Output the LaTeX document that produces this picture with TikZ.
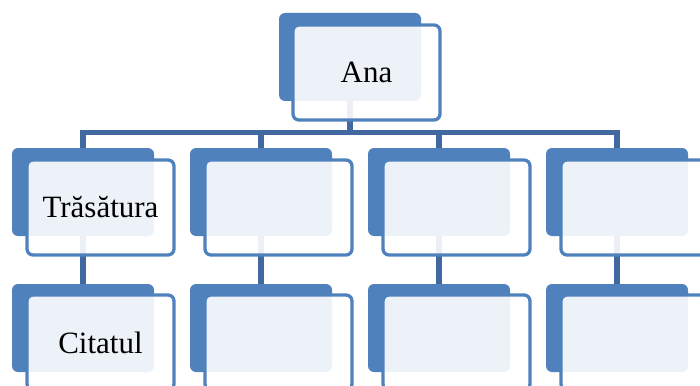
\documentclass[tikz,border=0pt]{standalone}
\usepackage{fontspec}
\setmainfont{Liberation Serif}
\definecolor{accent}{HTML}{4F81BD}
\definecolor{linkc}{HTML}{4169A0}
\tikzset{
  backbox/.style={anchor=north west, fill=accent, rounded corners=6pt,
    minimum width=142pt, minimum height=88pt, inner sep=0pt, outer sep=0pt},
  frontbox/.style={anchor=north west, draw=accent, line width=3.3pt, fill=white,
    fill opacity=0.9, text opacity=1, rounded corners=6pt,
    minimum width=147pt, minimum height=95pt, inner sep=0pt, outer sep=0pt,
    font=\fontsize{31}{31}\selectfont},
  link/.style={draw=linkc, line width=5.5pt}
}
\begin{document}
\begin{tikzpicture}[x=1pt,y=-1pt]
\useasboundingbox (0,0) rectangle (700,385);
\clip (0,0) rectangle (700,385);
\coordinate (bus) at (0,132.5);
% back boxes
\node[backbox] (b0) at (279,13) {};
\node[backbox] (b1) at (12,148) {};
\node[backbox] (b2) at (190,148) {};
\node[backbox] (b3) at (368,148) {};
\node[backbox] (b4) at (546,148) {};
\node[backbox] (c1) at (12,284) {};
\node[backbox] (c2) at (190,284) {};
\node[backbox] (c3) at (368,284) {};
\node[backbox] (c4) at (546,284) {};
% connectors
\draw[link] (b0.south) -- (b0.south |- bus);
\draw[link] ([xshift=-2.75pt]b1.south |- bus) -- ([xshift=2.75pt]b4.south |- bus);
\foreach \i in {1,2,3,4}{
  \draw[link] (b\i.north) -- (b\i.north |- bus);
  \draw[link] (b\i.south) -- (c\i.north);
}
% front boxes
\node[frontbox] (f0) at (293,25) {Ana};
\node[frontbox] (f1) at (27,160) {Trăsătura};
\node[frontbox] (f2) at (205,160) {};
\node[frontbox] (f3) at (383,160) {};
\node[frontbox] (f4) at (561,160) {};
\node[frontbox] (g1) at (27,295) {Citatul};
\node[frontbox] (g2) at (205,295) {};
\node[frontbox] (g3) at (383,295) {};
\node[frontbox] (g4) at (561,295) {};
\end{tikzpicture}
\end{document}
